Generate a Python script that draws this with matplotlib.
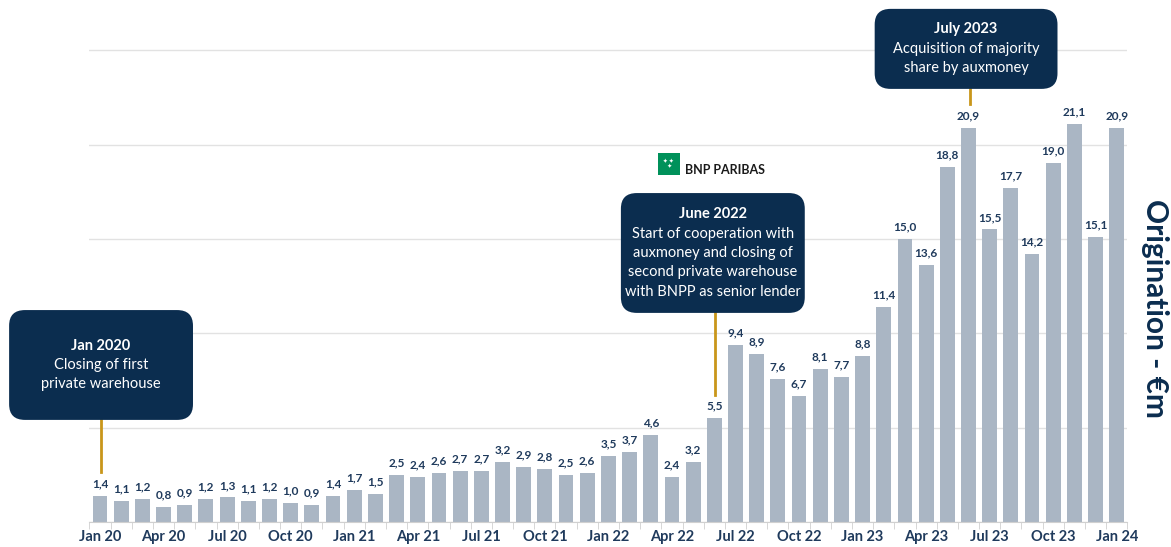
import matplotlib.pyplot as plt
import numpy as np
from matplotlib.patches import FancyBboxPatch, Rectangle

plt.rcParams['font.family'] = ['Lato', 'DejaVu Sans']

# monthly origination, Jan 2020 .. Jan 2024 (EUR m)
months = ['Jan 20', 'Feb 20', 'Mar 20', 'Apr 20', 'May 20', 'Jun 20', 'Jul 20', 'Aug 20', 'Sep 20', 'Oct 20', 'Nov 20', 'Dec 20',
          'Jan 21', 'Feb 21', 'Mar 21', 'Apr 21', 'May 21', 'Jun 21', 'Jul 21', 'Aug 21', 'Sep 21', 'Oct 21', 'Nov 21', 'Dec 21',
          'Jan 22', 'Feb 22', 'Mar 22', 'Apr 22', 'May 22', 'Jun 22', 'Jul 22', 'Aug 22', 'Sep 22', 'Oct 22', 'Nov 22', 'Dec 22',
          'Jan 23', 'Feb 23', 'Mar 23', 'Apr 23', 'May 23', 'Jun 23', 'Jul 23', 'Aug 23', 'Sep 23', 'Oct 23', 'Nov 23', 'Dec 23',
          'Jan 24']
origination = [1.4, 1.1, 1.2, 0.8, 0.9, 1.2, 1.3, 1.1, 1.2, 1.0, 0.9, 1.4,
               1.7, 1.5, 2.5, 2.4, 2.6, 2.7, 2.7, 3.2, 2.9, 2.8, 2.5, 2.6,
               3.5, 3.7, 4.6, 2.4, 3.2, 5.5, 9.4, 8.9, 7.6, 6.7, 8.1, 7.7,
               8.8, 11.4, 15.0, 13.6, 18.8, 20.9, 15.5, 17.7, 14.2, 19.0, 21.1, 15.1,
               20.9]

# events: (bar index, title, text)
events = [(0, 'Jan 2020', 'Closing of first\nprivate warehouse'),
          (29, 'June 2022', 'Start of cooperation with\nauxmoney and closing of\nsecond private warehouse\nwith BNPP as senior lender'),
          (41, 'July 2023', 'Acquisition of majority\nshare by auxmoney')]
# box extents in data units (x0, x1, y0, y1)
boxes = [(-4.29, 4.39, 5.41, 11.23),
         (24.59, 33.27, 11.08, 17.43),
         (36.57, 45.2, 22.95, 27.19)]

navy = '#0B2D4F'
bar_col = '#AAB6C4'
lbl_col = '#1F3A5C'
gold = '#C9961A'

fig = plt.figure(figsize=(11.71, 5.47), dpi=100)
ax = fig.add_axes([89.4 / 1171, 25 / 547, 1038 / 1171, 522 / 547])

x = np.arange(len(months))
ax.bar(x, origination, width=0.7, color=bar_col, zorder=2)
for xi, v in zip(x, origination):
    ax.text(xi, v + 0.35, f'{v:.1f}'.replace('.', ','), ha='center', va='bottom',
            fontsize=8.5, fontweight='bold', color=lbl_col)

ax.set_xlim(-0.5, 48.5)
ax.set_ylim(0, 27.66)
ax.set_yticks([0, 5, 10, 15, 20, 25])
ax.yaxis.grid(True, color='#E2E2E2', linewidth=1, zorder=0)
ax.set_yticklabels([])
ax.tick_params(axis='y', length=0)
ax.set_xticks(x[::3])
ax.set_xticklabels(months[::3], fontsize=10.5, fontweight='bold', color=lbl_col)
ax.set_xticks(np.arange(-0.5, 49, 1), minor=True)
ax.tick_params(axis='x', which='major', length=0, pad=6)
ax.tick_params(axis='x', which='minor', length=5, color='#D0D0D0')
for s in ['top', 'right', 'left']:
    ax.spines[s].set_visible(False)
ax.spines['bottom'].set_color('#D0D0D0')

for (idx, title, body), (x0, x1, y0, y1) in zip(events, boxes):
    ax.plot([idx + 0.05, idx + 0.05], [origination[idx] + 1.25, y0], color=gold, lw=2,
            zorder=3, clip_on=False)
    box = FancyBboxPatch((x0, y0), x1 - x0, y1 - y0,
                         boxstyle='round,pad=0,rounding_size=0.75', mutation_aspect=1.1,
                         facecolor=navy, edgecolor='none', zorder=4, clip_on=False)
    ax.add_patch(box)
    xc = (x0 + x1) / 2
    nlines = body.count('\n') + 2
    line_h = 1.03
    ytop = (y0 + y1) / 2 + (nlines - 1) * line_h / 2
    ax.text(xc, ytop, title, ha='center', va='center', fontsize=10.5, fontweight='bold',
            color='white', zorder=5)
    for k, ln in enumerate(body.split('\n')):
        ax.text(xc, ytop - (k + 1) * line_h, ln, ha='center', va='center', fontsize=10.5,
                color='white', zorder=5)

# BNP Paribas logo
ax.add_patch(Rectangle((26.33, 18.39), 1.04, 1.17, facecolor='#00915A', edgecolor='none',
                       zorder=4, clip_on=False))
ax.text(26.85, 18.98, '\u2726 \u2726\n \u2726', ha='center', va='center', fontsize=4,
        color='white', zorder=5)
ax.text(27.6, 18.65, 'BNP PARIBAS', ha='left', va='center', fontsize=9, fontweight='bold',
        color='#1A1A1A', zorder=5)

fig.text(1155 / 1171, 1 - 308 / 547, 'Origination - \u20acm', rotation=270, ha='center',
         va='center', fontsize=21.5, fontweight='bold', color=navy)

fig.savefig('out.png', dpi=100)
